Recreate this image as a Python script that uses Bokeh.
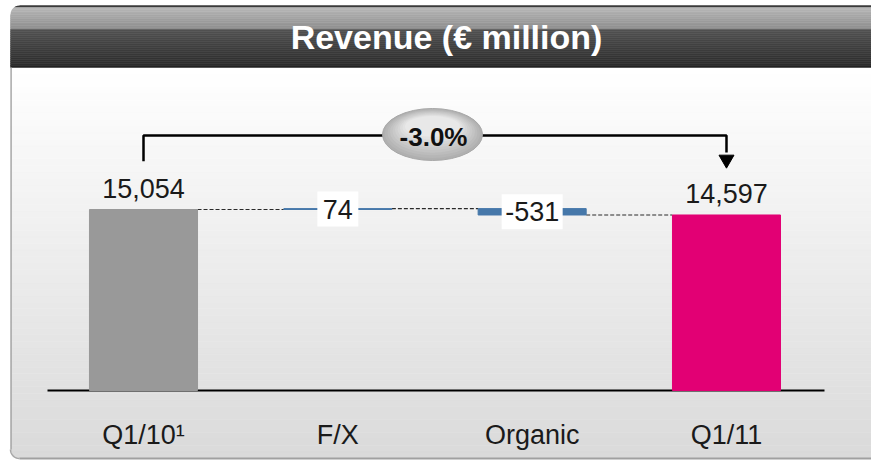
import numpy as np
from bokeh.plotting import figure
from bokeh.models import Range1d
from bokeh.core.properties import value
from bokeh.embed import file_html
from bokeh.resources import INLINE

# ---------------- data ----------------
title = "Revenue (€ million)"
categories = ["Q1/10¹", "F/X", "Organic", "Q1/11"]
start_value = 15054
changes = [74, -531]
end_value = 14597
bar_colors = ["#999999", "#4678aa", "#4678aa", "#e20074"]

# ---------------- layout ----------------
W, H = 871, 462
FONT = "Liberation Sans"

p = figure(width=W, height=H, output_backend="svg", toolbar_location=None,
           x_axis_location=None, y_axis_location=None, min_border=0,
           x_range=Range1d(-0.7359, 3.7462), y_range=Range1d(-5988, 32437))
p.outline_line_color = None
p.background_fill_color = "white"
p.border_fill_color = "white"
p.xgrid.visible = False
p.ygrid.visible = False
p.extra_x_ranges = {"px": Range1d(0, W)}
p.extra_y_ranges = {"px": Range1d(H, 0)}
PX = dict(x_range_name="px", y_range_name="px")

L = 10      # panel left edge
TOP = 5     # panel top
BOT = 458   # panel bottom


def hexmix(c1, c2, t):
    a = [int(c1[i:i + 2], 16) for i in (1, 3, 5)]
    b = [int(c2[i:i + 2], 16) for i in (1, 3, 5)]
    return "#%02x%02x%02x" % tuple(round(a[j] + (b[j] - a[j]) * t) for j in range(3))


def gradient(y0, y1, c0, c1, n):
    edges = np.linspace(y0, y1, n + 1)
    cols = [hexmix(c0, c1, i / max(n - 1, 1)) for i in range(n)]
    p.quad(left=[L] * n, right=[W] * n, top=list(edges[:-1]), bottom=list(edges[1:]),
           fill_color=cols, line_color=cols, line_width=0.5, **PX)


# panel body + header
gradient(67, BOT, "#ffffff", "#dadada", 60)
gradient(TOP, 7, "#3a3a3a", "#3a3a3a", 1)
gradient(7, 29, "#b6b6b6", "#8e8e8e", 12)
gradient(29, 65, "#505050", "#2c2c2c", 18)
gradient(65, 67, "#222222", "#222222", 1)

# rounded corners (white-out outside the arcs) and panel border
r = 9
cx = L + r
th = np.linspace(np.pi / 2, np.pi, 20)
cyt = TOP + r
xs = [L - 1.0, L + r] + [cx + r * np.cos(t) for t in th] + [L - 1.0]
ys = [TOP - 1.0, TOP - 1.0] + [cyt - r * np.sin(t) for t in th] + [TOP + r]
p.patch(xs, ys, fill_color="white", line_color=None, **PX)
cyb = BOT - r
thb = np.linspace(np.pi, 1.5 * np.pi, 20)
xs2 = [L - 1.0, L + r] + [cx + r * np.cos(t) for t in thb[::-1]] + [L - 1.0]
ys2 = [BOT + 1.0, BOT + 1.0] + [cyb - r * np.sin(t) for t in thb[::-1]] + [BOT - r]
p.patch(xs2, ys2, fill_color="white", line_color=None, **PX)
p.line([L + 0.6, L + 0.6], [67, BOT - r], line_color="#a8a8a8", line_width=1.5, **PX)
p.line([cx + r * np.cos(t) for t in thb], [cyb - r * np.sin(t) for t in thb],
       line_color="#a8a8a8", line_width=1.5, **PX)
p.line([L + r, W], [BOT, BOT], line_color="#a0a0a0", line_width=2, **PX)

# title
p.text(x=[446], y=[36], text=[title], text_font=value(FONT),
       text_font_style="bold", text_font_size="34px", text_color="white",
       text_align="center", text_baseline="middle", **PX)

# ---------------- waterfall ----------------
x = np.arange(len(categories))
bottoms, tops, levels = [0], [start_value], [start_value]
level = start_value
for c in changes:
    bottoms.append(min(level, level + c))
    tops.append(max(level, level + c))
    level += c
    levels.append(level)
bottoms.append(0)
tops.append(end_value)
bw = 0.556

# baseline axis
p.line([47, 824], [0, 0], line_color="black", line_width=2, x_range_name="px")

# connectors
for i in range(len(categories) - 1):
    lv = levels[i]
    p.line([x[i] + bw / 2, x[i + 1] - bw / 2], [lv, lv], line_color="#2a2a2a",
           line_width=1.2, line_dash="4 2")

p.vbar(x=x, top=tops, bottom=bottoms, width=bw, fill_color=bar_colors,
       line_color=bar_colors, line_width=1)

# total labels
tot_idx = [0, len(categories) - 1]
tot_vals = [start_value, end_value]
p.text(x=[x[i] for i in tot_idx], y=tot_vals, text=[f"{v:,}" for v in tot_vals],
       text_font=value(FONT), text_font_size="27px", text_color="#1a1a1a",
       text_align="center", text_baseline="middle", y_offset=-21)

# delta labels in white boxes
d_idx = list(range(1, 1 + len(changes)))
d_mid = [(bottoms[i] + tops[i]) / 2 for i in d_idx]
d_txt = [f"{c:,}" for c in changes]
p.rect(x=[x[i] for i in d_idx], y=d_mid, width=[10 * len(t) + 21 for t in d_txt],
       height=35, width_units="screen", height_units="screen",
       fill_color="white", line_color=None)
p.text(x=[x[i] for i in d_idx], y=d_mid, text=d_txt, text_font=value(FONT),
       text_font_size="27px", text_color="#1a1a1a", text_align="center",
       text_baseline="middle")

# category labels
p.text(x=x, y=[-3660] * len(categories), text=categories, text_font=value(FONT),
       text_font_size="27px", text_color="#1a1a1a", text_align="center",
       text_baseline="middle")

# ---------------- bracket with % change ----------------
pct = (end_value - start_value) / start_value * 100
yb = 21209
p.line([x[0], x[0], x[-1], x[-1]], [19071, yb, yb, 19795], line_color="black",
       line_width=2.5)
p.scatter(x=[x[-1]], y=[19213], marker="inverted_triangle", size=15, color="black")

# ellipse with gradient
n = 10
for i in range(n):
    t = i / (n - 1)
    p.ellipse(x=[432], y=[134 - 8 * t], width=[100 * (1 - 0.45 * t)],
              height=[52 * (1 - 0.6 * t)], fill_color=hexmix("#b0b0b0", "#e8e8e8", t),
              line_color="#a8a8a8" if i == 0 else None, line_width=1, **PX)
p.text(x=[433], y=[136], text=[f"{pct:.1f}%"], text_font=value(FONT),
       text_font_style="bold", text_font_size="26px", text_color="#111111",
       text_align="center", text_baseline="middle", **PX)

open("out.html", "w").write(file_html(p, INLINE))
